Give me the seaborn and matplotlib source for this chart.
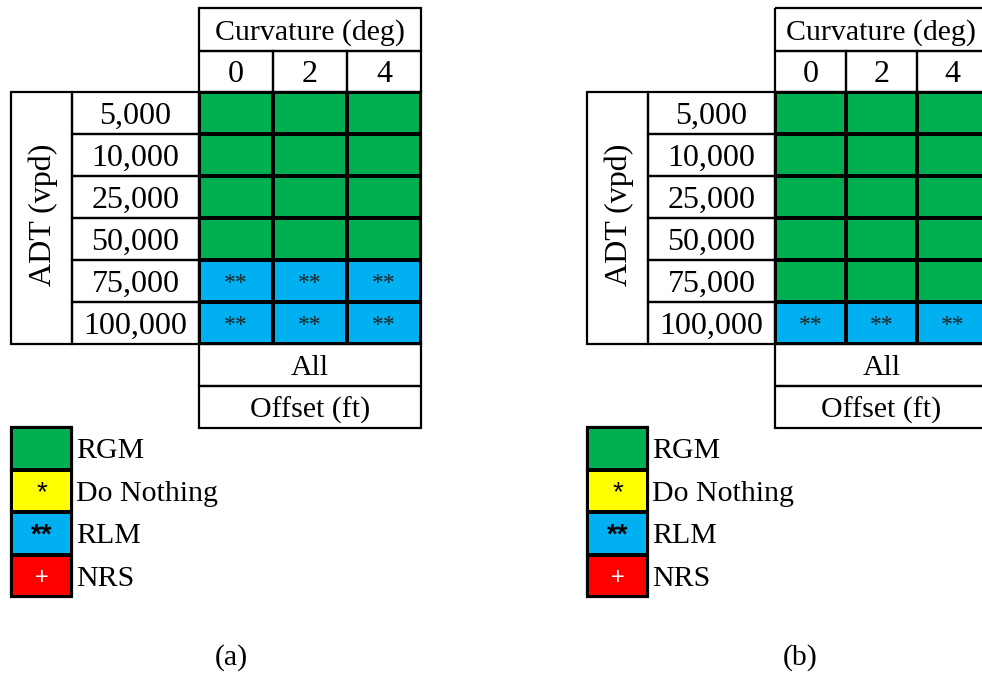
import numpy as np
import matplotlib
matplotlib.use("Agg")
import matplotlib.pyplot as plt
from matplotlib.colors import ListedColormap
from matplotlib.patches import Rectangle
import seaborn as sns

# ---------------------------------------------------------------
# data
# ---------------------------------------------------------------
adt_labels = ["5,000", "10,000", "25,000", "50,000", "75,000", "100,000"]
curvature_labels = ["0", "2", "4"]
offset_labels = ["All"]

# 0 = RGM, 1 = Do Nothing, 2 = RLM, 3 = NRS
codes_a = [[0, 0, 0], [0, 0, 0], [0, 0, 0], [0, 0, 0], [2, 2, 2], [2, 2, 2]]
codes_b = [[0, 0, 0], [0, 0, 0], [0, 0, 0], [0, 0, 0], [0, 0, 0], [2, 2, 2]]

legend_names = ["RGM", "Do Nothing", "RLM", "NRS"]
legend_symbols = ["", "*", "**", "+"]
legend_colors = ["#00B050", "#FFFF00", "#00B0F0", "#FF0000"]
panel_tags = ["(a)", "(b)"]

# ---------------------------------------------------------------
# layout (pixels)
# ---------------------------------------------------------------
W, H = 982, 673
SERIF = ["Liberation Serif", "DejaVu Serif"]
FS = 23      # numbers
FS_W = 21.5  # words
LW = 1.6
ROW_TOP = 92
ROW_H = 42
DY = 3  # serif text sits a bit low in each cell
cmap = ListedColormap(legend_colors)

sns.set_theme(style="white")
plt.rcParams["font.family"] = SERIF
plt.rcParams["text.color"] = "black"

fig = plt.figure(figsize=(W / 100, H / 100), dpi=100)
ax_bg = fig.add_axes([0, 0, 1, 1])
ax_bg.set_xlim(0, W)
ax_bg.set_ylim(H, 0)
ax_bg.axis("off")

ax_ln = fig.add_axes([0, 0, 1, 1], zorder=5)
ax_ln.set_xlim(0, W)
ax_ln.set_ylim(H, 0)
ax_ln.patch.set_alpha(0)
ax_ln.axis("off")


def px_axes(x0, y0, x1, y1, z=2):
    return fig.add_axes([x0 / W, 1 - y1 / H, (x1 - x0) / W, (y1 - y0) / H], zorder=z)


def box(x0, y0, x1, y1):
    ax_ln.add_patch(Rectangle((x0, y0), x1 - x0, y1 - y0, fill=False,
                              edgecolor="black", lw=LW))


def label(x, y, s, fs=FS, **kw):
    ax_bg.text(x, y + DY, s, va="center", fontsize=fs, color="black", **kw)


def draw_panel(codes, x_adt, x_lab, x_data, x_right, tag, tag_x):
    n_rows = len(adt_labels)
    y_bot = ROW_TOP + n_rows * ROW_H

    # coloured cells
    codes = np.array(codes)
    annot = np.array(legend_symbols, dtype=object)[codes]
    ax = px_axes(x_data, ROW_TOP, x_right, y_bot)
    sns.heatmap(codes, ax=ax, cmap=cmap, vmin=-0.5, vmax=3.5, cbar=False,
                annot=annot, fmt="", linewidths=LW, linecolor="black",
                xticklabels=False, yticklabels=False,
                annot_kws={"fontsize": 17, "color": "#222222", "family": SERIF})
    for t in ax.texts:
        t.set_y(t.get_position()[1] + 0.07)

    # header
    col_w = (x_right - x_data) / len(curvature_labels)
    box(x_data, 8, x_right, 51)
    label((x_data + x_right) / 2, 29.5, "Curvature (deg)", fs=FS_W, ha="center")
    for i, lab in enumerate(curvature_labels):
        box(x_data + i * col_w, 51, x_data + (i + 1) * col_w, ROW_TOP)
        label(x_data + (i + 0.5) * col_w, 71.5, lab, ha="center")
    box(x_data, ROW_TOP, x_right, y_bot)

    # row labels
    box(x_adt, ROW_TOP, x_lab, y_bot)
    ax_bg.text((x_adt + x_lab) / 2 + 2, (ROW_TOP + y_bot) / 2 - 3, "ADT (vpd)",
               rotation=90, ha="center", va="center", fontsize=FS, color="black")
    for i, lab in enumerate(adt_labels):
        y0 = ROW_TOP + i * ROW_H
        box(x_lab, y0, x_data, y0 + ROW_H)
        label((x_lab + x_data) / 2, y0 + ROW_H / 2, lab, ha="center")

    # offset rows
    box(x_data, y_bot, x_right, y_bot + ROW_H)
    label((x_data + x_right) / 2, y_bot + ROW_H / 2, offset_labels[0], fs=FS_W,
          ha="center")
    box(x_data, y_bot + ROW_H, x_right, y_bot + 2 * ROW_H)
    label((x_data + x_right) / 2, y_bot + 1.5 * ROW_H, "Offset (ft)", fs=FS_W,
          ha="center")

    # legend
    leg_top = y_bot + 2 * ROW_H - 1
    leg_h = 42.5
    axl = px_axes(x_adt, leg_top, x_lab, leg_top + leg_h * len(legend_names))
    leg_codes = np.arange(len(legend_names)).reshape(-1, 1)
    sns.heatmap(leg_codes, ax=axl, cmap=cmap, vmin=-0.5, vmax=3.5, cbar=False,
                annot=np.array(legend_symbols, dtype=object).reshape(-1, 1),
                fmt="", linewidths=LW, linecolor="black",
                xticklabels=False, yticklabels=False,
                annot_kws={"fontsize": 20, "color": "black",
                           "family": ["Liberation Sans", "DejaVu Sans"]})
    for t in axl.texts:
        if t.get_text() == "+":
            t.set_color("white")
            t.set_fontsize(17)
        if t.get_text() == "**":
            t.set_fontweight("bold")
        t.set_y(t.get_position()[1] + 0.05)
    box(x_adt, leg_top, x_lab, leg_top + leg_h * len(legend_names))
    for i, name in enumerate(legend_names):
        label(x_lab + 4, leg_top + (i + 0.5) * leg_h, name, fs=FS_W, ha="left")

    label(tag_x, 655, tag, fs=FS_W, ha="center")


draw_panel(codes_a, 11, 72, 199, 421, panel_tags[0], 231)
draw_panel(codes_b, 587, 648, 775, 988, panel_tags[1], 800)

fig.savefig("out.png", dpi=100)
plt.close(fig)
